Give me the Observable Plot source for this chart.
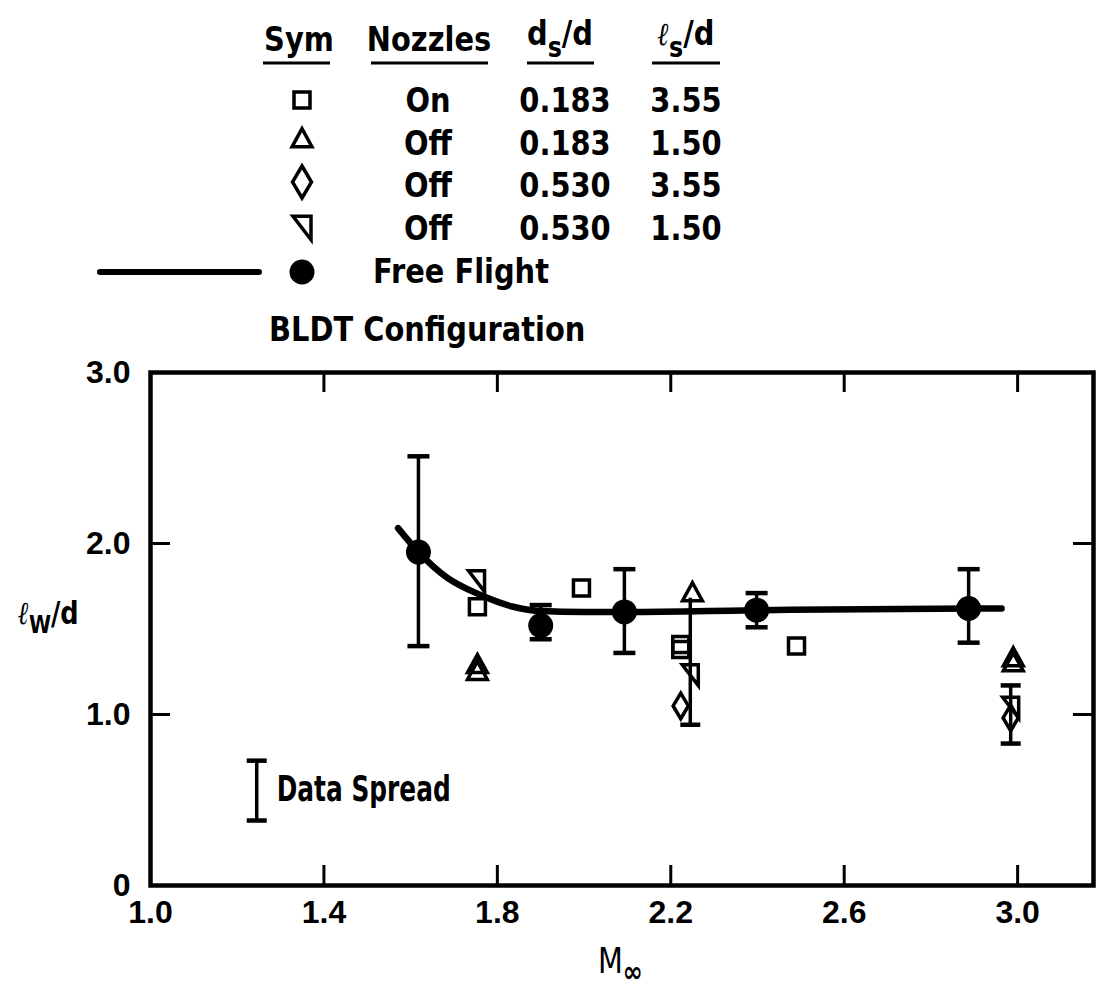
<!DOCTYPE html>
<html>
<head>
<meta charset="utf-8">
<script src="https://cdn.jsdelivr.net/npm/d3@7"></script>
<script src="https://cdn.jsdelivr.net/npm/@observablehq/plot@0.6"></script>
<style>
  html, body { margin: 0; padding: 0; background: white; }
  #wrap { position: relative; width: 1098px; height: 994px; overflow: hidden; background: white; }
  #legend { position: absolute; left: 0; top: 0; z-index: 2; overflow: visible; }
  #chart { position: absolute; left: 0; top: 340px; z-index: 1; }
  #chart svg { overflow: visible; }
  .lbl { position: absolute; z-index: 3; color: black; white-space: nowrap; font-family: "DejaVu Sans", sans-serif; font-weight: bold; transform-origin: 0 0; }
</style>
</head>
<body>
<div id="wrap">
  <svg id="legend" width="1098" height="362"></svg>
  <div id="chart"></div>
  <div class="lbl" id="ylab" style="left:18px; top:594px; font-size:32px; transform: scaleX(0.8);"><span style="font-style:italic; font-family:'DejaVu Serif', serif; font-weight:bold; font-size:32px;">ℓ</span><sub style="font-size:25px; vertical-align:-9px;">W</sub>/d</div>
  <div class="lbl" id="xlab" style="left:598px; top:940px; font-size:36px; font-weight:normal; transform: scaleX(0.8);">M<sub style="font-size:30px; vertical-align:-9px; font-weight:bold;">∞</sub></div>
</div>
<script>
// ---------------- data ----------------
const xTickVals = [1.4, 1.8, 2.2, 2.6, 3.0];
const xLabelVals = [1.0, 1.4, 1.8, 2.2, 2.6, 3.0];
const yTickVals = [1, 2];
const yLabelVals = [0, 1, 2, 3];

// Free flight (filled circles with error bars) and faired curve
const ffM  = [1.618, 1.90, 2.093, 2.398, 2.887];
const ffL  = [1.95, 1.52, 1.60, 1.61, 1.62];
const ffLo = [1.40, 1.44, 1.36, 1.51, 1.42];
const ffHi = [2.51, 1.64, 1.85, 1.71, 1.85];
const curveM = [1.571, 1.618, 1.684, 1.76, 1.837, 1.90, 2.0, 2.1, 2.4, 2.9, 2.963];
const curveL = [2.09, 1.95, 1.80, 1.70, 1.63, 1.605, 1.60, 1.60, 1.61, 1.62, 1.62];

// Model data
const sqM  = [1.754, 1.994, 2.223, 2.223, 2.49];      // Nozzles On, 0.183, 3.55
const sqL  = [1.63, 1.74, 1.38, 1.41, 1.40];
const triM = [1.754, 1.754, 2.25, 2.99, 2.99];        // Off, 0.183, 1.50
const triL = [1.25, 1.29, 1.71, 1.30, 1.33];
const diaM = [2.223, 2.984];                           // Off, 0.530, 3.55
const diaL = [1.05, 0.98];
const rtM  = [1.752, 2.245, 2.984];                    // Off, 0.530, 1.50
const rtL  = [1.78, 1.23, 1.04];

// model spread bars
const barM  = [2.245, 2.984];
const barLo = [0.94, 0.83];
const barHi = [1.68, 1.17];
const capM  = [2.245, 2.984, 2.984];
const capL  = [0.94, 0.83, 1.17];

// "Data Spread" key
const spreadM = [1.245];
const spreadLo = [0.38];
const spreadHi = [0.73];
const spreadMid = [0.56];
const spreadText = ["Data Spread"];

// legend table
const legendSym = ["square", "triangle", "diamond", "rtri"];
const legendNozzles = ["On", "Off", "Off", "Off"];
const legendDs = ["0.183", "0.183", "0.530", "0.530"];
const legendLs = ["3.55", "1.50", "3.55", "1.50"];

// ---------------- symbols ----------------
const rad = s => Math.sqrt(s / Math.PI);
const symSquare = {draw(c, s) { const r = rad(s); c.moveTo(-r, -r); c.lineTo(r, -r); c.lineTo(r, r); c.lineTo(-r, r); c.closePath(); }};
const symTri = {draw(c, s) { const r = rad(s); c.moveTo(0, -1.15 * r); c.lineTo(1.1 * r, 0.85 * r); c.lineTo(-1.1 * r, 0.85 * r); c.closePath(); }};
const symDia = {draw(c, s) { const r = rad(s); c.moveTo(0, -1.6 * r); c.lineTo(0.95 * r, 0); c.lineTo(0, 1.6 * r); c.lineTo(-0.95 * r, 0); c.closePath(); }};
const symRtri = {draw(c, s) { const r = rad(s); c.moveTo(-r, -1.3 * r); c.lineTo(r, -1.3 * r); c.lineTo(r, 1.3 * r); c.closePath(); }};
const symCap = {draw(c, s) { const r = rad(s); c.moveTo(-r, 0); c.lineTo(r, 0); }};
const symMap = {square: symSquare, triangle: symTri, diamond: symDia, rtri: symRtri};

const idx = a => a.map((_, i) => i);
const boldFont = '"DejaVu Sans", sans-serif';

// ---------------- chart ----------------
const chart = Plot.plot({
  width: 1098, height: 654,
  marginTop: 32, marginBottom: 109, marginLeft: 150, marginRight: 5,
  x: {domain: [1, 3.175]},
  y: {domain: [0, 3]},
  style: {fontFamily: '"Liberation Sans", Arial, sans-serif', fontSize: "32px", fontWeight: "bold", color: "black", background: "transparent", overflow: "visible"},
  marks: [
    Plot.frame({stroke: "black", strokeWidth: 4.5}),
    Plot.tickX(xTickVals, {x: d => d, insetTop: 493, strokeWidth: 3}),
    Plot.tickX(xTickVals, {x: d => d, insetBottom: 493, strokeWidth: 3}),
    Plot.tickY(yTickVals, {y: d => d, insetRight: 923, strokeWidth: 3}),
    Plot.tickY(yTickVals, {y: d => d, insetLeft: 923, strokeWidth: 3}),
    Plot.axisX(xLabelVals, {tickSize: 0, tickPadding: 15, tickFormat: d => d.toFixed(1), label: null}),
    Plot.axisY(yLabelVals, {tickSize: 0, tickPadding: 20, tickFormat: d => d === 0 ? "0" : d.toFixed(1), label: null}),
    // faired free-flight curve
    Plot.line(idx(curveM), {x: i => curveM[i], y: i => curveL[i], curve: "monotone-x", stroke: "black", strokeWidth: 6.5, strokeLinecap: "round"}),
    // free flight error bars
    Plot.ruleX(idx(ffM), {x: i => ffM[i], y1: i => ffLo[i], y2: i => ffHi[i], stroke: "black", strokeWidth: 3.5}),
    Plot.dot(idx(ffM), {x: i => ffM[i], y: i => ffLo[i], symbol: symCap, r: 11, stroke: "black", strokeWidth: 4.5, fill: "none"}),
    Plot.dot(idx(ffM), {x: i => ffM[i], y: i => ffHi[i], symbol: symCap, r: 11, stroke: "black", strokeWidth: 4.5, fill: "none"}),
    // model spread bars
    Plot.ruleX(idx(barM), {x: i => barM[i], y1: i => barLo[i], y2: i => barHi[i], stroke: "black", strokeWidth: 3.5}),
    Plot.dot(idx(capM), {x: i => capM[i], y: i => capL[i], symbol: symCap, r: 10, stroke: "black", strokeWidth: 4.5, fill: "none"}),
    // model symbols
    Plot.dot(idx(sqM), {x: i => sqM[i], y: i => sqL[i], symbol: symSquare, r: 8, stroke: "black", strokeWidth: 3.5, fill: "none"}),
    Plot.dot(idx(triM), {x: i => triM[i], y: i => triL[i], symbol: symTri, r: 9, stroke: "black", strokeWidth: 3.5, fill: "none"}),
    Plot.dot(idx(diaM), {x: i => diaM[i], y: i => diaL[i], symbol: symDia, r: 8, stroke: "black", strokeWidth: 3.5, fill: "none"}),
    Plot.dot(idx(rtM), {x: i => rtM[i], y: i => rtL[i], symbol: symRtri, r: 8, stroke: "black", strokeWidth: 3.5, fill: "none"}),
    // free flight circles
    Plot.dot(idx(ffM), {x: i => ffM[i], y: i => ffL[i], r: 12.5, fill: "black", stroke: "none"}),
    // data spread key
    Plot.ruleX(idx(spreadM), {x: i => spreadM[i], y1: i => spreadLo[i], y2: i => spreadHi[i], stroke: "black", strokeWidth: 3.5}),
    Plot.dot(idx(spreadM), {x: i => spreadM[i], y: i => spreadLo[i], symbol: symCap, r: 10, stroke: "black", strokeWidth: 4.5, fill: "none"}),
    Plot.dot(idx(spreadM), {x: i => spreadM[i], y: i => spreadHi[i], symbol: symCap, r: 10, stroke: "black", strokeWidth: 4.5, fill: "none"}),
    Plot.text(idx(spreadM), {x: i => spreadM[i], y: i => spreadMid[i], text: i => spreadText[i], dx: 20, textAnchor: "start", fontSize: 35, fontWeight: "bold", fontFamily: boldFont})
  ]
});
document.getElementById("chart").appendChild(chart);
// condense the "Data Spread" key text like the reference's narrow typeface
d3.select(chart).selectAll('g[aria-label="text"] text').each(function() {
  const t = d3.select(this);
  t.attr("transform", (t.attr("transform") || "") + " scale(0.71,1)");
});

// ---------------- legend (table above the chart) ----------------
const lg = d3.select("#legend");
lg.attr("font-family", boldFont).attr("font-weight", "bold").attr("font-size", 34);
const SX = 0.85;
function lt(x, y, anchor) {
  return lg.append("text").attr("transform", `translate(${x},${y}) scale(${SX},1)`).attr("text-anchor", anchor || "middle");
}
const colX = {sym: 302, noz: 428, ds: 565, ls: 686};
const rowBase = [112, 155, 197, 240];
const rowSymY = [100, 139, 182, 228];

// headers
lt(299, 51).text("Sym");
lt(429, 51).text("Nozzles");
const h3 = lt(560, 45);
h3.append("tspan").text("d");
h3.append("tspan").attr("dy", 12).attr("font-size", 28).text("s");
h3.append("tspan").attr("dy", -12).text("/d");
const h4 = lt(686, 45);
h4.append("tspan").attr("font-family", "DejaVu Serif, serif").attr("font-style", "italic").attr("font-size", 32).text("ℓ");
h4.append("tspan").attr("dy", 12).attr("font-size", 28).text("s");
h4.append("tspan").attr("dy", -12).text("/d");
[[263, 330], [371, 488], [527, 594], [652, 720]].forEach(([a, b]) =>
  lg.append("line").attr("x1", a).attr("x2", b).attr("y1", 63).attr("y2", 63).attr("stroke", "black").attr("stroke-width", 3));

legendSym.forEach((s, i) => {
  lg.append("path")
    .attr("d", d3.symbol(symMap[s], Math.PI * (s === "triangle" ? 81 : s === "diamond" ? 100 : s === "rtri" ? 81 : 64))())
    .attr("transform", `translate(${colX.sym},${rowSymY[i]})`)
    .attr("fill", "none").attr("stroke", "black").attr("stroke-width", 3.5);
  lt(colX.noz, rowBase[i]).text(legendNozzles[i]);
  lt(colX.ds, rowBase[i]).text(legendDs[i]);
  lt(colX.ls, rowBase[i]).text(legendLs[i]);
});
// free flight row
lg.append("line").attr("x1", 100).attr("x2", 259).attr("y1", 272).attr("y2", 272).attr("stroke", "black").attr("stroke-width", 6).attr("stroke-linecap", "round");
lg.append("circle").attr("cx", colX.sym).attr("cy", 272).attr("r", 12.5).attr("fill", "black");
lt(373, 283, "start").text("Free Flight");
lt(269, 341, "start").text("BLDT Configuration");
</script>
</body>
</html>
